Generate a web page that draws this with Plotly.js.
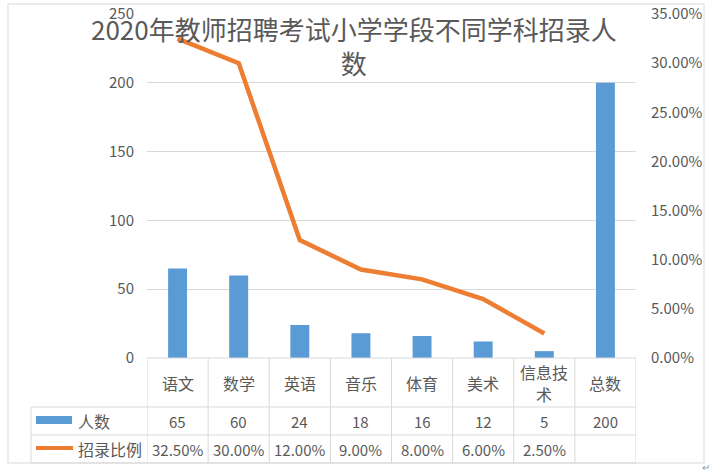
<!DOCTYPE html>
<html><head><meta charset="utf-8">
<script src="https://cdn.plot.ly/plotly-3.0.1.min.js"></script>
<style>html,body{margin:0;padding:0;background:#fff}#chart{width:721px;height:474px}</style>
</head><body><div id="chart"></div>
<script>
// ---- data ----
const categories = ['语文','数学','英语','音乐','体育','美术','信息技术','总数'];
const counts = [65, 60, 24, 18, 16, 12, 5, 200];
const ratios = [0.325, 0.30, 0.12, 0.09, 0.08, 0.06, 0.025, null];
const seriesNames = ['人数', '招录比例'];
const titleText = '2020年教师招聘考试小学学段不同学科招录人数';

// ---- layout geometry (pixels) ----
const W = 721, H = 474;
const plotL = 147, plotR = 636, plotT = 14, plotB = 358;
const pw = plotR - plotL, ph = plotB - plotT;
const px2x = p => (p - plotL) / pw;
const py2y = p => (plotB - p) / ph;
const rowY = [358, 407, 435, 463];
const legendColL = 31;
const grid = '#d9d9d9', txt = '#595959';
const FONT = '"Noto Sans CJK SC", "Noto Sans", sans-serif';

const fmtPct = v => (v * 100).toFixed(2) + '%';
// wrap long category labels into lines of at most 3 characters
const wrapLines = s => s.length > 3 ? [s.slice(0, 3), s.slice(3)] : [s];

const traces = [
  { type: 'bar', name: seriesNames[0], x: categories, y: counts, width: 0.31,
    marker: { color: '#5b9bd5' }, hoverinfo: 'skip' },
  { type: 'scatter', mode: 'lines', name: seriesNames[1], x: categories, y: ratios, yaxis: 'y2',
    line: { color: '#ed7d31', width: 4.5 }, connectgaps: false, hoverinfo: 'skip' }
];

const shapes = [];
const line = (xref, x0, x1, y0, y1) => shapes.push({ type: 'line', xref, yref: 'paper', x0, x1, y0, y1, line: { color: grid, width: 1 } });
// outer border
shapes.push({ type: 'rect', xref: 'paper', yref: 'paper', x0: px2x(8), x1: px2x(704), y0: py2y(463), y1: py2y(4), line: { color: grid, width: 1 } });
// table horizontal lines
line('paper', 0, 1, py2y(rowY[0]), py2y(rowY[0]));
for (let k = 1; k < rowY.length; k++) line('paper', px2x(legendColL), 1, py2y(rowY[k]), py2y(rowY[k]));
// table vertical lines
for (let i = 0; i <= categories.length; i++) line('x', i - 0.5, i - 0.5, py2y(rowY[0]), py2y(rowY[3]));
line('paper', px2x(legendColL), px2x(legendColL), py2y(rowY[1]), py2y(rowY[3]));
// legend keys
shapes.push({ type: 'rect', xref: 'paper', yref: 'paper', x0: px2x(36), x1: px2x(72), y0: py2y(424), y1: py2y(416), fillcolor: '#5b9bd5', line: { width: 0 } });
shapes.push({ type: 'line', xref: 'paper', yref: 'paper', x0: px2x(36), x1: px2x(73), y0: py2y(448), y1: py2y(448), line: { color: '#ed7d31', width: 4 } });

const annotations = [];
const cellFont = { family: FONT, size: 15, color: txt };
const catFont = { family: FONT, size: 16, color: txt };
const mid = k => py2y((rowY[k] + rowY[k + 1]) / 2);
const headerMid = (rowY[0] + rowY[1]) / 2;
const lineGap = 22;
categories.forEach((c, i) => {
  const parts = wrapLines(c);
  parts.forEach((p, j) => {
    const yPix = headerMid + (j - (parts.length - 1) / 2) * lineGap;
    annotations.push({ xref: 'x', yref: 'paper', x: i, y: py2y(yPix), text: p, showarrow: false, font: catFont, xanchor: 'center', yanchor: 'middle' });
  });
  annotations.push({ xref: 'x', yref: 'paper', x: i, y: mid(1), text: String(counts[i]), showarrow: false, font: cellFont, xanchor: 'center', yanchor: 'middle' });
  if (ratios[i] !== null) annotations.push({ xref: 'x', yref: 'paper', x: i, y: mid(2), text: fmtPct(ratios[i]), showarrow: false, font: cellFont, xanchor: 'center', yanchor: 'middle' });
});
seriesNames.forEach((n, k) => {
  annotations.push({ xref: 'paper', yref: 'paper', x: px2x(76), y: mid(k + 1), text: n, showarrow: false, font: catFont, xanchor: 'left', yanchor: 'middle' });
});
// chart title (wrapped like the reference)
annotations.push({ xref: 'paper', yref: 'paper', x: px2x(354), y: py2y(8), xanchor: 'center', yanchor: 'top', showarrow: false,
  text: titleText.slice(0, -1) + '<br>' + titleText.slice(-1), font: { family: FONT, size: 26, color: txt } });
annotations.push({ xref: 'paper', yref: 'paper', x: px2x(706), y: py2y(467), text: '↵', showarrow: false, font: { family: FONT, size: 10, color: '#999' }, xanchor: 'center', yanchor: 'middle' });

const layout = {
  width: W, height: H,
  margin: { l: plotL, r: W - plotR, t: plotT, b: H - plotB, pad: 0 },
  paper_bgcolor: '#fff', plot_bgcolor: '#fff',
  showlegend: false,
  font: { family: FONT, size: 15, color: txt },
  xaxis: { type: 'category', range: [-0.5, categories.length - 0.5], showticklabels: false, showgrid: false, zeroline: false, showline: false, ticks: '' },
  yaxis: { range: [0, 250], dtick: 50, showgrid: true, gridcolor: grid, gridwidth: 1, zeroline: false, showline: false, ticks: '',
           tickfont: { family: FONT, size: 15, color: txt }, ticklabelstandoff: 12 },
  yaxis2: { overlaying: 'y', side: 'right', range: [0, 0.35], dtick: 0.05, tickformat: '.2%', showgrid: false, zeroline: false, showline: false, ticks: '',
            tickfont: { family: FONT, size: 15, color: txt }, ticklabelstandoff: 14 },
  shapes, annotations
};
Plotly.newPlot('chart', traces, layout, { staticPlot: true, displayModeBar: false });
</script></body></html>
